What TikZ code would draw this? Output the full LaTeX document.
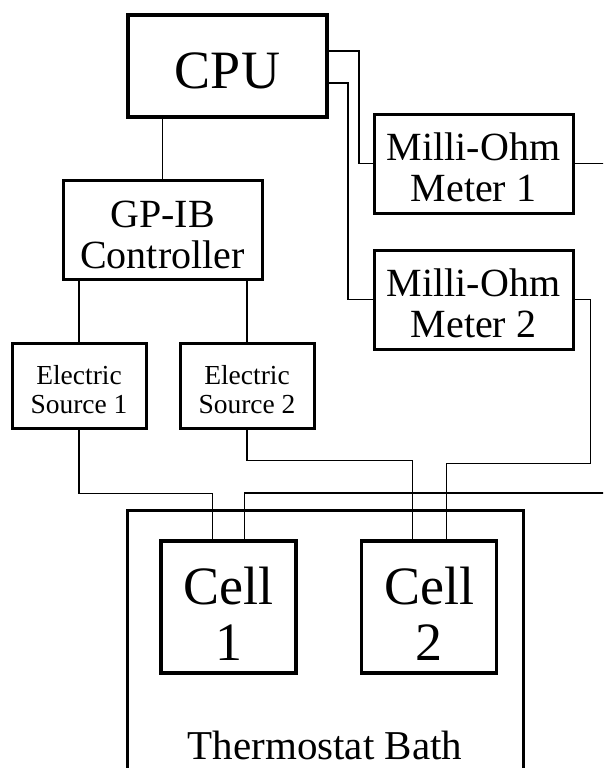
\documentclass[tikz,border=0pt]{standalone}
\usepackage{fontspec}
\setmainfont{Liberation Serif}
\usetikzlibrary{positioning}
\newcommand{\lowered}[1]{\rule{0pt}{#1}}

\begin{document}
\begin{tikzpicture}[
        x=1pt, y=-1pt,
        node distance=34pt and 31pt,
        box/.style={rectangle, draw, line width=3pt, align=center, inner sep=0pt, minimum width=199pt, minimum height=99pt, font=\fontsize{40}{41}\selectfont},
        small/.style={box, minimum width=134pt, minimum height=85pt, font=\fontsize{27.5}{29}\selectfont},
        cellbox/.style={box, line width=3.6pt, minimum width=135pt, minimum height=132pt, font=\fontsize{54}{56}\selectfont},
        wire/.style={line width=1.2pt}
    ]
        \useasboundingbox (0,0) rectangle (603,768);
        \clip (0,0) rectangle (603,768);

        \node[box, line width=3.8pt, minimum height=102pt, font=\fontsize{54}{54}\selectfont] (cpu) at (227.5,66) {\lowered{46pt}CPU};
        \node[box] (gp) at (162.5,229.5) {\lowered{38pt}GP-IB\\Controller};
        \node[box] (mom1) at (473.5,163.5) {\lowered{36pt}Milli-Ohm\\Meter 1};
        \node[box, below=of mom1] (mom2) {\lowered{36pt}Milli-Ohm\\Meter 2};
        \node[small] (es1) at (79,385.5) {\lowered{27pt}Electric\\Source 1};
        \node[small, right=of es1] (es2) {\lowered{27pt}Electric\\Source 2};
        \node[box, minimum width=396pt, minimum height=470pt, font=\fontsize{41}{41}\selectfont] (bath) at (325,745) {Thermostat Bath};
        \node[cellbox] (cell1) at (228.5,607) {\lowered{50pt}Cell\\1};
        \node[cellbox, right=62pt of cell1] (cell2) {\lowered{50pt}Cell\\2};
        \coordinate (far) at (620,493);

        \draw[wire] (gp.north) -- (gp.north |- cpu.south);
        \draw[wire] (es1.north) -- (es1.north |- gp.south);
        \draw[wire] (es2.north) -- (es2.north |- gp.south);
        \draw[wire] ([yshift=15pt]cpu.east) -- ++(30,0) |- (mom1.west);
        \draw[wire] ([yshift=-17pt]cpu.east) -- ++(19,0) |- (mom2.west);
        \draw[wire] (mom1.east) -| (far) -| ([xshift=16pt]cell1.north);
        \draw[wire] (es1.south) -- ++(0,64) -| ([xshift=-16pt]cell1.north);
        \draw[wire] (es2.south) -- ++(0,31) -| ([xshift=-17pt]cell2.north);
        \draw[wire] (mom2.east) -- ++(16,0) -- ++(0,164) -| ([xshift=17pt]cell2.north);
    \end{tikzpicture}
\end{document}
